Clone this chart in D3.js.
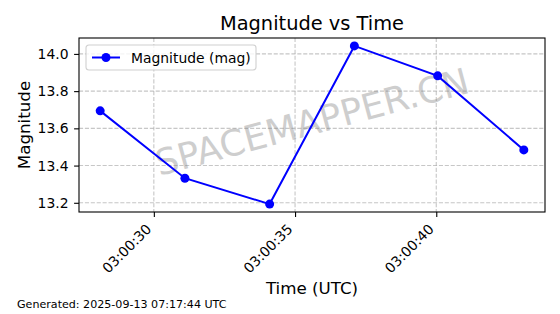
<!DOCTYPE html>
<html>
<head>
<meta charset="utf-8">
<script src="https://cdn.jsdelivr.net/npm/d3@7"></script>
<style>
  body { margin: 0; background: #fff; }
  svg { font-family: 'DejaVu Sans', sans-serif; }
  .grid line { stroke: #b0b0b0; stroke-dasharray: 4.1 1.8; stroke-width: 1.1; opacity: 0.7; }
</style>
</head>
<body>
<div id="chartContainer"></div>
<script>
// observation times (UTC) and magnitudes
const times = ['03:00:28.1', '03:00:31.1', '03:00:34.1', '03:00:37.1', '03:00:40.05', '03:00:43.1'];
const magnitudes = [13.694, 13.332, 13.193, 14.043, 13.882, 13.484];
const yTicks = [13.2, 13.4, 13.6, 13.8, 14.0];
const xTickLabels = ['03:00:30', '03:00:35', '03:00:40'];

const svgWidth = 560;
const svgHeight = 314;
const margin = { top: 38, right: 15, bottom: 102, left: 79 };
const chartWidth = svgWidth - margin.left - margin.right;
const chartHeight = svgHeight - margin.top - margin.bottom;

const parseTime = d3.utcParse('%H:%M:%S.%L');
const toDate = (s) => parseTime(s.includes('.') ? s.padEnd(12, '0') : s + '.000');
const data = times.map((t, i) => ({ t: toDate(t), v: magnitudes[i] }));

const svg = d3.select('#chartContainer').append('svg').attr('width', svgWidth).attr('height', svgHeight);

const xExt = d3.extent(data, (d) => d.t);
const xPad = (xExt[1] - xExt[0]) * 0.05;
const xScale = d3.scaleUtc()
    .domain([new Date(+xExt[0] - xPad), new Date(+xExt[1] + xPad)])
    .range([0, chartWidth]);

const yExt = d3.extent(magnitudes);
const yPad = (yExt[1] - yExt[0]) * 0.05;
const yScale = d3.scaleLinear().domain([yExt[0] - yPad, yExt[1] + yPad]).range([chartHeight, 0]);

const chart = svg.append('g').attr('transform', `translate(${margin.left}, ${margin.top})`);

const xTickDates = xTickLabels.map((s) => toDate(s));

// grid
chart.append('g').attr('class', 'grid')
    .selectAll('line.v').data(xTickDates).enter().append('line')
    .attr('x1', (d) => xScale(d)).attr('x2', (d) => xScale(d))
    .attr('y1', 0).attr('y2', chartHeight);
chart.append('g').attr('class', 'grid')
    .selectAll('line.h').data(yTicks).enter().append('line')
    .attr('y1', (d) => yScale(d)).attr('y2', (d) => yScale(d))
    .attr('x1', 0).attr('x2', chartWidth);

// watermark
chart.append('text')
    .attr('transform', `translate(${chartWidth / 2}, ${chartHeight / 2 - 3}) rotate(-15)`)
    .attr('text-anchor', 'middle')
    .attr('dominant-baseline', 'central')
    .attr('font-size', 36)
    .attr('fill', '#808080')
    .attr('opacity', 0.38)
    .text('SPACEMAPPER.CN');

// line + markers
const line = d3.line().x((d) => xScale(d.t)).y((d) => yScale(d.v));
chart.append('path')
    .datum(data)
    .attr('fill', 'none')
    .attr('stroke', '#0000ff')
    .attr('stroke-width', 2)
    .attr('d', line);

chart.selectAll('.dot')
    .data(data)
    .enter()
    .append('circle')
    .attr('class', 'dot')
    .attr('cx', (d) => xScale(d.t))
    .attr('cy', (d) => yScale(d.v))
    .attr('r', 4.5)
    .attr('fill', '#0000ff');

// axes
const xAxis = d3.axisBottom(xScale).tickValues(xTickDates).tickFormat(d3.utcFormat('%H:%M:%S')).tickSize(4.9).tickSizeOuter(0);
const gx = chart.append('g')
    .attr('transform', `translate(0, ${chartHeight})`)
    .call(xAxis);
gx.selectAll('text')
    .attr('font-size', 13.9)
    .attr('font-family', 'DejaVu Sans')
    .attr('fill', '#000')
    .attr('text-anchor', 'end')
    .attr('dy', null)
    .attr('y', 0)
    .attr('transform', 'translate(-2, 18) rotate(-45)');

const yAxis = d3.axisLeft(yScale).tickValues(yTicks).tickFormat(d3.format('.1f')).tickSize(4.9).tickSizeOuter(0);
const gy = chart.append('g').call(yAxis);
gy.selectAll('text')
    .attr('font-size', 13.9)
    .attr('font-family', 'DejaVu Sans')
    .attr('fill', '#000')
    .attr('x', -10.5);

[gx, gy].forEach((g) => {
    g.select('.domain').remove();
    g.selectAll('line').attr('stroke', '#000').attr('stroke-width', 1.1);
});

chart.append('rect')
    .attr('width', chartWidth)
    .attr('height', chartHeight)
    .attr('fill', 'none')
    .attr('stroke', '#000')
    .attr('stroke-width', 1.1);

// legend
const legend = chart.append('g').attr('transform', 'translate(7, 7)');
legend.append('rect')
    .attr('width', 170).attr('height', 25).attr('rx', 3)
    .attr('fill', '#fff').attr('fill-opacity', 0.8)
    .attr('stroke', '#d0d0d0').attr('stroke-width', 1.1);
legend.append('line')
    .attr('x1', 6).attr('x2', 34).attr('y1', 12.5).attr('y2', 12.5)
    .attr('stroke', '#0000ff').attr('stroke-width', 2);
legend.append('circle').attr('cx', 20).attr('cy', 12.5).attr('r', 4.5).attr('fill', '#0000ff');
legend.append('text')
    .attr('x', 45).attr('y', 17.5)
    .attr('font-size', 13.9)
    .text('Magnitude (mag)');

// titles
svg.append('text')
    .attr('x', margin.left + chartWidth / 2)
    .attr('y', 30)
    .attr('text-anchor', 'middle')
    .attr('font-size', 19.4)
    .text('Magnitude vs Time');

chart.append('text')
    .attr('x', chartWidth / 2)
    .attr('y', chartHeight + 82)
    .attr('text-anchor', 'middle')
    .attr('font-size', 16.7)
    .text('Time (UTC)');

chart.append('text')
    .attr('x', -chartHeight / 2)
    .attr('y', -49)
    .attr('text-anchor', 'middle')
    .attr('transform', 'rotate(-90)')
    .attr('font-size', 16.7)
    .text('Magnitude');

svg.append('text')
    .attr('x', 17)
    .attr('y', 308)
    .attr('font-size', 11.1)
    .text('Generated: 2025-09-13 07:17:44 UTC');
</script>
</body>
</html>
